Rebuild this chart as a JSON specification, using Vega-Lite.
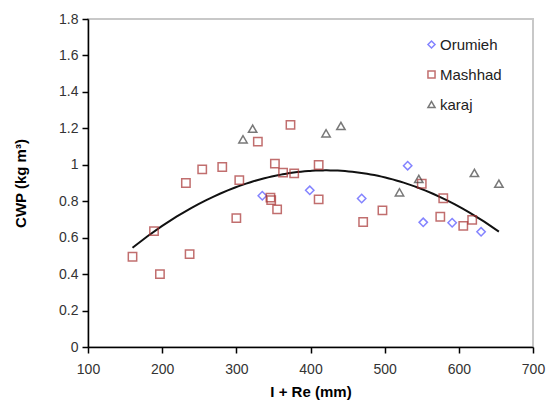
{
  "$schema": "https://vega.github.io/schema/vega-lite/v6.json",
  "autosize": "none",
  "padding": {"left": 88, "top": 19, "right": 14, "bottom": 59},
  "width": 445,
  "height": 328,
  "background": "white",
  "config": {
    "font": "Liberation Sans",
    "view": {"stroke": "#c8c8c8", "strokeWidth": 2},
    "axis": {
      "grid": false,
      "domainColor": "#000000",
      "domainWidth": 1.5,
      "tickColor": "#000000",
      "tickSize": 6,
      "tickWidth": 1.5,
      "labelColor": "#333333",
      "labelFont": "Liberation Sans",
      "labelFontSize": 14,
      "labelOverlap": false,
      "labelFlush": false,
      "titleFont": "Liberation Sans",
      "titleFontSize": 15,
      "titleFontWeight": "bold",
      "titleColor": "#000000"
    }
  },
  "data": {
    "values": [
      {"site": "Orumieh", "x": 335, "cwp": 0.83},
      {"site": "Orumieh", "x": 399, "cwp": 0.86},
      {"site": "Orumieh", "x": 469, "cwp": 0.815},
      {"site": "Orumieh", "x": 531, "cwp": 0.995},
      {"site": "Orumieh", "x": 552, "cwp": 0.684},
      {"site": "Orumieh", "x": 591, "cwp": 0.682},
      {"site": "Orumieh", "x": 630, "cwp": 0.632},
      {"site": "Mashhad", "x": 160, "cwp": 0.495},
      {"site": "Mashhad", "x": 189, "cwp": 0.636},
      {"site": "Mashhad", "x": 197, "cwp": 0.40},
      {"site": "Mashhad", "x": 232, "cwp": 0.90},
      {"site": "Mashhad", "x": 237, "cwp": 0.51},
      {"site": "Mashhad", "x": 254, "cwp": 0.975},
      {"site": "Mashhad", "x": 281, "cwp": 0.988},
      {"site": "Mashhad", "x": 300, "cwp": 0.707},
      {"site": "Mashhad", "x": 304, "cwp": 0.916},
      {"site": "Mashhad", "x": 329, "cwp": 1.127},
      {"site": "Mashhad", "x": 346, "cwp": 0.82},
      {"site": "Mashhad", "x": 347, "cwp": 0.806},
      {"site": "Mashhad", "x": 352, "cwp": 1.006},
      {"site": "Mashhad", "x": 355, "cwp": 0.755},
      {"site": "Mashhad", "x": 363, "cwp": 0.957},
      {"site": "Mashhad", "x": 373, "cwp": 1.219},
      {"site": "Mashhad", "x": 378, "cwp": 0.953},
      {"site": "Mashhad", "x": 411, "cwp": 0.999},
      {"site": "Mashhad", "x": 411, "cwp": 0.81},
      {"site": "Mashhad", "x": 471, "cwp": 0.686},
      {"site": "Mashhad", "x": 497, "cwp": 0.75},
      {"site": "Mashhad", "x": 550, "cwp": 0.896},
      {"site": "Mashhad", "x": 579, "cwp": 0.816},
      {"site": "Mashhad", "x": 575, "cwp": 0.715},
      {"site": "Mashhad", "x": 606, "cwp": 0.665},
      {"site": "Mashhad", "x": 618, "cwp": 0.698},
      {"site": "karaj", "x": 309, "cwp": 1.14},
      {"site": "karaj", "x": 322, "cwp": 1.198},
      {"site": "karaj", "x": 421, "cwp": 1.173},
      {"site": "karaj", "x": 441, "cwp": 1.213},
      {"site": "karaj", "x": 520, "cwp": 0.849},
      {"site": "karaj", "x": 546, "cwp": 0.922},
      {"site": "karaj", "x": 621, "cwp": 0.955},
      {"site": "karaj", "x": 654, "cwp": 0.896}
    ]
  },
  "encoding": {
    "x": {
      "field": "x",
      "type": "quantitative",
      "scale": {"domain": [100, 700], "nice": false, "zero": false},
      "axis": {"values": [100, 200, 300, 400, 500, 600, 700], "title": "I + Re (mm)", "titlePadding": 8, "labelPadding": 9}
    },
    "y": {
      "field": "cwp",
      "type": "quantitative",
      "scale": {"domain": [0, 1.8], "nice": false, "zero": true},
      "axis": {"values": [0, 0.2, 0.4, 0.6, 0.8, 1, 1.2, 1.4, 1.6, 1.8], "format": "~g", "title": "CWP   (kg m³)", "titlePadding": 30, "labelPadding": 4}
    }
  },
  "layer": [
    {
      "transform": [
        {"regression": "cwp", "on": "x", "method": "poly", "order": 2, "extent": [160, 654]}
      ],
      "mark": {"type": "line", "color": "#111111", "strokeWidth": 2}
    },
    {
      "mark": {"type": "point", "filled": false, "strokeWidth": 1.5, "size": 70},
      "encoding": {
        "shape": {
          "field": "site",
          "type": "nominal",
          "scale": {"domain": ["Orumieh", "Mashhad", "karaj"], "range": ["diamond", "square", "triangle-up"]},
          "legend": {
            "title": null,
            "orient": "none",
            "legendX": 336,
            "legendY": 18,
            "labelFontSize": 15,
            "labelFont": "Liberation Sans",
            "labelColor": "#222222",
            "labelOffset": 1,
            "rowPadding": 14,
            "symbolSize": 50,
            "symbolStrokeWidth": 1.5
          }
        },
        "stroke": {
          "field": "site",
          "type": "nominal",
          "scale": {"domain": ["Orumieh", "Mashhad", "karaj"], "range": ["#5050ff", "#a83232", "#404040"]},
          "legend": null
        }
      }
    }
  ]
}
